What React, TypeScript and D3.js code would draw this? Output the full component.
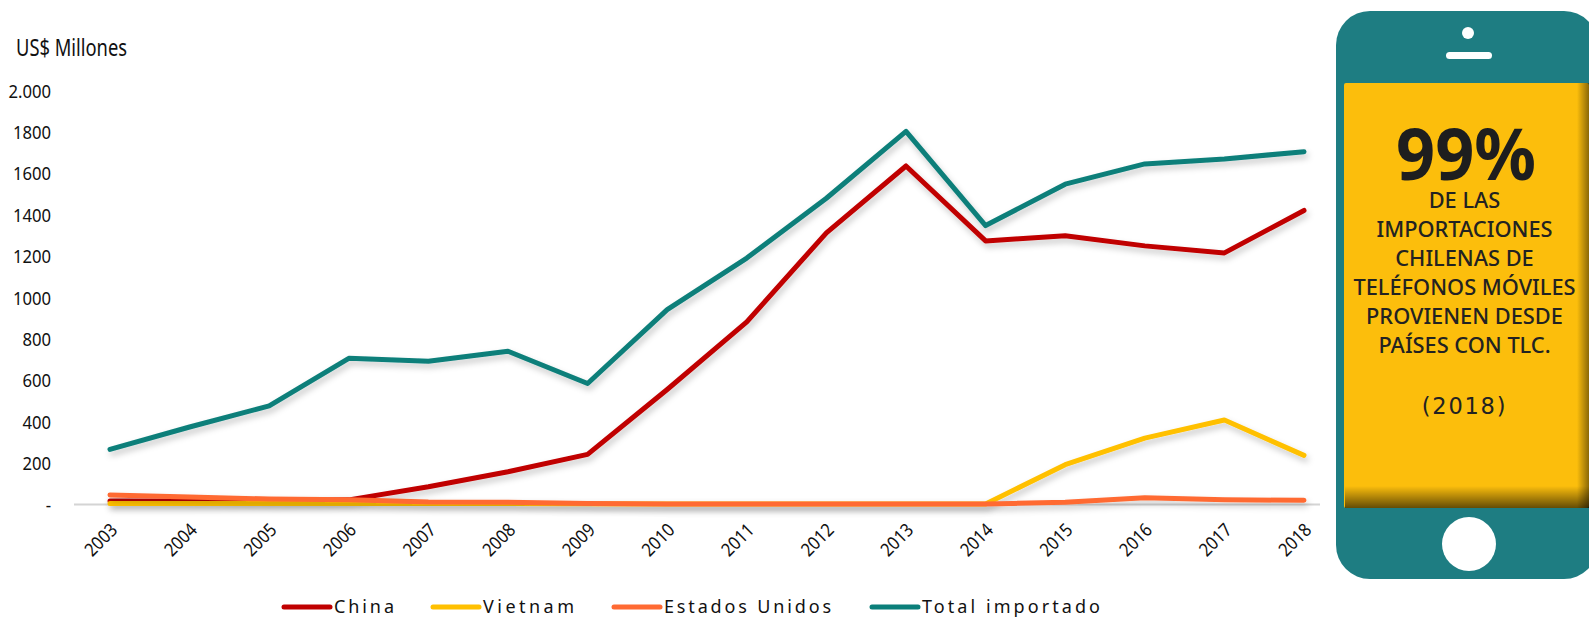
import React, { useEffect, useRef } from "react";
import * as d3 from "d3";

const years = ["2003","2004","2005","2006","2007","2008","2009","2010","2011","2012","2013","2014","2015","2016","2017","2018"];
const china = [14, 14, 16, 20, 83, 156, 240, 553, 880, 1310, 1633, 1271, 1296, 1247, 1213, 1418];
const vietnam = [3, 3, 3, 3, 2, 2, 1, 0, 0, 0, 0, 0, 190, 318, 406, 235];
const usa = [44, 34, 24, 20, 10, 9, 2, 0, 0, 0, 0, 0, 8, 30, 20, 18];
const total = [264, 372, 474, 704, 690, 738, 582, 939, 1188, 1477, 1800, 1345, 1545, 1643, 1667, 1702];
const yTicks = [0, 200, 400, 600, 800, 1000, 1200, 1400, 1600, 1800, 2000];
const yTickLabels = ["-", "200", "400", "600", "800", "1000", "1200", "1400", "1600", "1800", "2.000"];
const seriesNames = ["China", "Vietnam", "Estados Unidos", "Total importado"];
const seriesColors = ["#c00000", "#ffc000", "#ff6a33", "#0b7f7a"];
const legendStarts = [282, 431, 612, 870];
const legendTextWidths = [60, 91, 167, 178];
const phoneLines = ["DE LAS", "IMPORTACIONES", "CHILENAS DE", "TELÉFONOS MÓVILES", "PROVIENEN DESDE", "PAÍSES CON TLC."];

const labelFont = "'Noto Sans', sans-serif";
const phoneFont = "'Noto Sans', sans-serif";

// squeeze text horizontally, the reference uses a narrow face
const squeeze = (sel: any, factor: number) => {
  sel.each(function (this: any) {
    d3.select(this)
      .attr("textLength", this.getComputedTextLength() * factor)
      .attr("lengthAdjust", "spacingAndGlyphs");
  });
};

const App = () => {
  const ref = useRef<SVGSVGElement>(null);

  useEffect(() => {
    const svg = d3.select(ref.current);
    svg.selectAll("*").remove();

    const x = d3.scalePoint().domain(years).range([110, 1304]);
    const y = d3.scaleLinear().domain([0, 2000]).range([504, 90]);
    const line = d3
      .line<number>()
      .x((_, i) => x(years[i]) as number)
      .y((d) => y(d));

    const defs = svg.append("defs");
    const shadow = defs.append("filter").attr("id", "lineShadow")
      .attr("filterUnits", "userSpaceOnUse")
      .attr("x", 0).attr("y", 0).attr("width", 1400).attr("height", 618);
    shadow.append("feDropShadow").attr("dx", 2).attr("dy", 4).attr("stdDeviation", 3)
      .attr("flood-color", "#000").attr("flood-opacity", 0.22);

    const rightShade = defs.append("linearGradient").attr("id", "rightShade");
    rightShade.append("stop").attr("offset", "0").attr("stop-color", "#000").attr("stop-opacity", 0);
    rightShade.append("stop").attr("offset", "1").attr("stop-color", "#000").attr("stop-opacity", 0.45);
    const bottomShade = defs.append("linearGradient").attr("id", "bottomShade")
      .attr("x1", 0).attr("x2", 0).attr("y1", 0).attr("y2", 1);
    bottomShade.append("stop").attr("offset", "0").attr("stop-color", "#000").attr("stop-opacity", 0);
    bottomShade.append("stop").attr("offset", "1").attr("stop-color", "#000").attr("stop-opacity", 0.6);

    // Title
    svg.append("text").attr("x", 16).attr("y", 56)
      .attr("font-family", labelFont).attr("font-size", 23).attr("fill", "#111")
      .attr("textLength", 111).attr("lengthAdjust", "spacingAndGlyphs")
      .text("US$ Millones");

    // Y axis
    const yAxis = svg.append("g")
      .attr("transform", "translate(51,0)")
      .call(d3.axisLeft(y).tickValues(yTicks).tickSize(0).tickPadding(0)
        .tickFormat((_, i) => yTickLabels[i]));
    yAxis.select(".domain").remove();
    yAxis.selectAll("text")
      .attr("font-family", labelFont).attr("font-size", 18.5).attr("fill", "#111")
      .attr("dy", "0.38em")
      .call(squeeze, 0.9);

    // X axis
    svg.append("line").attr("x1", 74).attr("x2", 1320).attr("y1", 504.5).attr("y2", 504.5)
      .attr("stroke", "#d4d4d4").attr("stroke-width", 2);
    const xAxis = svg.append("g")
      .attr("transform", "translate(0,504)")
      .call(d3.axisBottom(x).tickSize(0));
    xAxis.select(".domain").remove();
    xAxis.selectAll("text")
      .attr("font-family", labelFont).attr("font-size", 18.5).attr("fill", "#111")
      .attr("text-anchor", "end").attr("dy", 0)
      .attr("transform", "translate(6,25) rotate(-45)")
      .call(squeeze, 0.88);

    // Lines
    [china, vietnam, usa, total].forEach((values, i) => {
      svg.append("path").attr("d", line(values))
        .attr("fill", "none").attr("stroke", seriesColors[i]).attr("stroke-width", 5)
        .attr("stroke-linecap", "round").attr("stroke-linejoin", "round")
        .attr("filter", "url(#lineShadow)");
    });

    // Legend
    seriesNames.forEach((name, i) => {
      const x0 = legendStarts[i];
      svg.append("line").attr("x1", x0 + 2).attr("x2", x0 + 48).attr("y1", 607).attr("y2", 607)
        .attr("stroke", seriesColors[i]).attr("stroke-width", 5).attr("stroke-linecap", "round");
      svg.append("text").attr("x", x0 + 52).attr("y", 613)
        .attr("font-family", labelFont).attr("font-size", 18).attr("fill", "#111")
        .attr("textLength", legendTextWidths[i]).attr("lengthAdjust", "spacing")
        .text(name);
    });

    // Phone
    const phone = svg.append("g");
    phone.append("rect").attr("x", 1336).attr("y", 11).attr("width", 262).attr("height", 568)
      .attr("rx", 34).attr("fill", "#1e7d82");
    phone.append("rect").attr("x", 1344).attr("y", 83).attr("width", 245).attr("height", 425)
      .attr("rx", 2).attr("fill", "#fcbe0c");
    phone.append("rect").attr("x", 1577).attr("y", 83).attr("width", 12).attr("height", 425)
      .attr("fill", "url(#rightShade)");
    phone.append("rect").attr("x", 1345).attr("y", 486).attr("width", 244).attr("height", 22)
      .attr("fill", "url(#bottomShade)");
    phone.append("circle").attr("cx", 1468).attr("cy", 33).attr("r", 6).attr("fill", "#fff");
    phone.append("rect").attr("x", 1446).attr("y", 52).attr("width", 46).attr("height", 7)
      .attr("rx", 3.5).attr("fill", "#fff");
    phone.append("circle").attr("cx", 1469).attr("cy", 544).attr("r", 27).attr("fill", "#fff");

    phone.append("text").attr("x", 1466).attr("y", 180).attr("text-anchor", "middle")
      .attr("font-family", phoneFont).attr("font-weight", 700).attr("font-size", 72).attr("fill", "#1e1e1e")
      .attr("textLength", 140).attr("lengthAdjust", "spacingAndGlyphs")
      .text("99%");
    const lineY = d3.scaleLinear().domain([0, 5]).range([208, 353]);
    phoneLines.forEach((t, i) => {
      phone.append("text").attr("x", 1464.5).attr("y", lineY(i)).attr("text-anchor", "middle")
        .attr("font-family", phoneFont).attr("font-weight", 500).attr("font-size", 22).attr("fill", "#222")
        .text(t)
        .call(squeeze, 0.99);
    });
    phone.append("text").attr("x", 1464.5).attr("y", 414).attr("text-anchor", "middle")
      .attr("font-family", "'DejaVu Sans', sans-serif").attr("font-size", 22.5).attr("letter-spacing", 1.8).attr("fill", "#222")
      .text("(2018)");
  }, []);

  return (
    <svg
      ref={ref}
      width={1589}
      height={618}
      style={{ position: "absolute", left: 0, top: 0, background: "#fff" }}
    />
  );
};

export default App;
